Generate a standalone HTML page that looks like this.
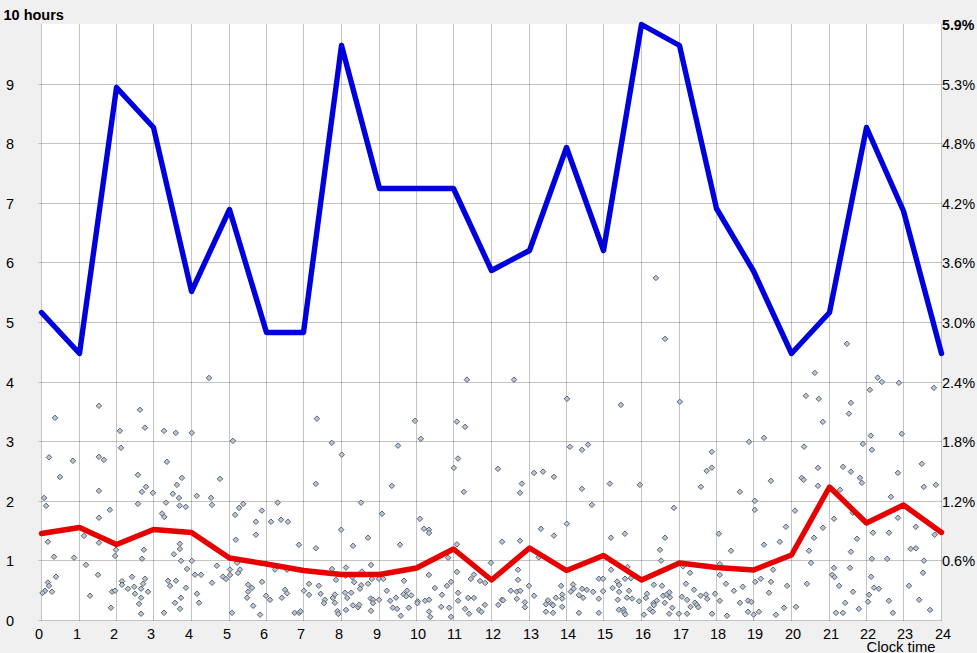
<!DOCTYPE html><html><head><meta charset="utf-8"><title>Chart</title><style>html,body{margin:0;padding:0;background:#f0f0f0;overflow:hidden}svg{display:block}</style></head><body>
<svg width="977" height="653" viewBox="0 0 977 653">
<rect x="0" y="0" width="977" height="653" fill="#f0f0f0"/>
<rect x="41" y="24" width="901" height="597" fill="#ffffff"/>
<path d="M41.5 24V621 M79.5 24V621 M116.5 24V621 M153.5 24V621 M191.5 24V621 M229.5 24V621 M266.5 24V621 M303.5 24V621 M341.5 24V621 M379.5 24V621 M416.5 24V621 M453.5 24V621 M491.5 24V621 M529.5 24V621 M566.5 24V621 M603.5 24V621 M641.5 24V621 M679.5 24V621 M716.5 24V621 M753.5 24V621 M791.5 24V621 M829.5 24V621 M866.5 24V621 M903.5 24V621 M941.5 24V621" stroke="#000" stroke-opacity="0.23" stroke-width="1" fill="none" shape-rendering="crispEdges"/>
<path d="M41 620.5H942 M41 560.5H942 M41 501.5H942 M41 441.5H942 M41 382.5H942 M41 322.5H942 M41 262.5H942 M41 203.5H942 M41 143.5H942 M41 84.5H942" stroke="#000" stroke-opacity="0.23" stroke-width="1" fill="none" shape-rendering="crispEdges"/>
<path d="M38 620.5H41 M38 560.5H41 M38 501.5H41 M38 441.5H41 M38 382.5H41 M38 322.5H41 M38 262.5H41 M38 203.5H41 M38 143.5H41 M38 84.5H41" stroke="#c8c8c8" stroke-width="1" fill="none" shape-rendering="crispEdges"/>
<g fill="#bac6d6" stroke="#5a626e" stroke-width="1">
<path d="M655.9 275.2l2.75 2.75 -2.75 2.75 -2.75 -2.75z"/>
<path d="M665.0 336.1l2.75 2.75 -2.75 2.75 -2.75 -2.75z"/>
<path d="M121.0 445.1l2.75 2.75 -2.75 2.75 -2.75 -2.75z"/>
<path d="M55.0 415.1l2.75 2.75 -2.75 2.75 -2.75 -2.75z"/>
<path d="M98.9 403.1l2.75 2.75 -2.75 2.75 -2.75 -2.75z"/>
<path d="M139.9 407.1l2.75 2.75 -2.75 2.75 -2.75 -2.75z"/>
<path d="M144.9 424.9l2.75 2.75 -2.75 2.75 -2.75 -2.75z"/>
<path d="M119.9 428.1l2.75 2.75 -2.75 2.75 -2.75 -2.75z"/>
<path d="M164.0 428.1l2.75 2.75 -2.75 2.75 -2.75 -2.75z"/>
<path d="M175.8 430.1l2.75 2.75 -2.75 2.75 -2.75 -2.75z"/>
<path d="M846.9 341.1l2.75 2.75 -2.75 2.75 -2.75 -2.75z"/>
<path d="M209.0 375.2l2.75 2.75 -2.75 2.75 -2.75 -2.75z"/>
<path d="M316.9 415.9l2.75 2.75 -2.75 2.75 -2.75 -2.75z"/>
<path d="M232.9 438.1l2.75 2.75 -2.75 2.75 -2.75 -2.75z"/>
<path d="M331.8 440.1l2.75 2.75 -2.75 2.75 -2.75 -2.75z"/>
<path d="M191.8 430.1l2.75 2.75 -2.75 2.75 -2.75 -2.75z"/>
<path d="M466.9 376.9l2.75 2.75 -2.75 2.75 -2.75 -2.75z"/>
<path d="M415.0 418.1l2.75 2.75 -2.75 2.75 -2.75 -2.75z"/>
<path d="M456.9 418.9l2.75 2.75 -2.75 2.75 -2.75 -2.75z"/>
<path d="M465.1 424.1l2.75 2.75 -2.75 2.75 -2.75 -2.75z"/>
<path d="M420.8 436.1l2.75 2.75 -2.75 2.75 -2.75 -2.75z"/>
<path d="M398.0 442.9l2.75 2.75 -2.75 2.75 -2.75 -2.75z"/>
<path d="M341.8 451.9l2.75 2.75 -2.75 2.75 -2.75 -2.75z"/>
<path d="M458.0 455.8l2.75 2.75 -2.75 2.75 -2.75 -2.75z"/>
<path d="M514.0 376.9l2.75 2.75 -2.75 2.75 -2.75 -2.75z"/>
<path d="M567.0 396.1l2.75 2.75 -2.75 2.75 -2.75 -2.75z"/>
<path d="M620.9 402.1l2.75 2.75 -2.75 2.75 -2.75 -2.75z"/>
<path d="M569.9 444.1l2.75 2.75 -2.75 2.75 -2.75 -2.75z"/>
<path d="M582.0 447.1l2.75 2.75 -2.75 2.75 -2.75 -2.75z"/>
<path d="M588.0 441.9l2.75 2.75 -2.75 2.75 -2.75 -2.75z"/>
<path d="M679.8 399.1l2.75 2.75 -2.75 2.75 -2.75 -2.75z"/>
<path d="M749.1 439.1l2.75 2.75 -2.75 2.75 -2.75 -2.75z"/>
<path d="M764.0 435.1l2.75 2.75 -2.75 2.75 -2.75 -2.75z"/>
<path d="M711.8 449.1l2.75 2.75 -2.75 2.75 -2.75 -2.75z"/>
<path d="M814.8 370.1l2.75 2.75 -2.75 2.75 -2.75 -2.75z"/>
<path d="M877.7 374.9l2.75 2.75 -2.75 2.75 -2.75 -2.75z"/>
<path d="M881.9 379.2l2.75 2.75 -2.75 2.75 -2.75 -2.75z"/>
<path d="M898.9 380.1l2.75 2.75 -2.75 2.75 -2.75 -2.75z"/>
<path d="M933.9 385.1l2.75 2.75 -2.75 2.75 -2.75 -2.75z"/>
<path d="M869.9 387.1l2.75 2.75 -2.75 2.75 -2.75 -2.75z"/>
<path d="M805.9 393.1l2.75 2.75 -2.75 2.75 -2.75 -2.75z"/>
<path d="M818.8 396.1l2.75 2.75 -2.75 2.75 -2.75 -2.75z"/>
<path d="M850.9 400.1l2.75 2.75 -2.75 2.75 -2.75 -2.75z"/>
<path d="M848.9 410.9l2.75 2.75 -2.75 2.75 -2.75 -2.75z"/>
<path d="M822.8 419.1l2.75 2.75 -2.75 2.75 -2.75 -2.75z"/>
<path d="M870.8 432.9l2.75 2.75 -2.75 2.75 -2.75 -2.75z"/>
<path d="M901.8 431.1l2.75 2.75 -2.75 2.75 -2.75 -2.75z"/>
<path d="M862.9 441.1l2.75 2.75 -2.75 2.75 -2.75 -2.75z"/>
<path d="M804.1 443.9l2.75 2.75 -2.75 2.75 -2.75 -2.75z"/>
<path d="M871.9 447.1l2.75 2.75 -2.75 2.75 -2.75 -2.75z"/>
<path d="M49.0 454.6l2.75 2.75 -2.75 2.75 -2.75 -2.75z"/>
<path d="M72.9 458.1l2.75 2.75 -2.75 2.75 -2.75 -2.75z"/>
<path d="M98.9 454.1l2.75 2.75 -2.75 2.75 -2.75 -2.75z"/>
<path d="M103.9 457.1l2.75 2.75 -2.75 2.75 -2.75 -2.75z"/>
<path d="M166.9 459.1l2.75 2.75 -2.75 2.75 -2.75 -2.75z"/>
<path d="M59.9 474.2l2.75 2.75 -2.75 2.75 -2.75 -2.75z"/>
<path d="M137.9 472.1l2.75 2.75 -2.75 2.75 -2.75 -2.75z"/>
<path d="M181.9 475.1l2.75 2.75 -2.75 2.75 -2.75 -2.75z"/>
<path d="M176.9 482.1l2.75 2.75 -2.75 2.75 -2.75 -2.75z"/>
<path d="M146.0 484.1l2.75 2.75 -2.75 2.75 -2.75 -2.75z"/>
<path d="M141.9 489.1l2.75 2.75 -2.75 2.75 -2.75 -2.75z"/>
<path d="M152.9 490.1l2.75 2.75 -2.75 2.75 -2.75 -2.75z"/>
<path d="M98.9 488.1l2.75 2.75 -2.75 2.75 -2.75 -2.75z"/>
<path d="M172.9 491.1l2.75 2.75 -2.75 2.75 -2.75 -2.75z"/>
<path d="M179.0 495.2l2.75 2.75 -2.75 2.75 -2.75 -2.75z"/>
<path d="M44.1 495.2l2.75 2.75 -2.75 2.75 -2.75 -2.75z"/>
<path d="M46.1 503.1l2.75 2.75 -2.75 2.75 -2.75 -2.75z"/>
<path d="M137.9 501.1l2.75 2.75 -2.75 2.75 -2.75 -2.75z"/>
<path d="M166.0 499.9l2.75 2.75 -2.75 2.75 -2.75 -2.75z"/>
<path d="M179.6 502.9l2.75 2.75 -2.75 2.75 -2.75 -2.75z"/>
<path d="M185.8 504.1l2.75 2.75 -2.75 2.75 -2.75 -2.75z"/>
<path d="M109.9 507.1l2.75 2.75 -2.75 2.75 -2.75 -2.75z"/>
<path d="M98.9 515.0l2.75 2.75 -2.75 2.75 -2.75 -2.75z"/>
<path d="M162.0 510.8l2.75 2.75 -2.75 2.75 -2.75 -2.75z"/>
<path d="M164.3 514.2l2.75 2.75 -2.75 2.75 -2.75 -2.75z"/>
<path d="M84.0 533.1l2.75 2.75 -2.75 2.75 -2.75 -2.75z"/>
<path d="M47.9 539.0l2.75 2.75 -2.75 2.75 -2.75 -2.75z"/>
<path d="M98.9 540.0l2.75 2.75 -2.75 2.75 -2.75 -2.75z"/>
<path d="M115.9 547.0l2.75 2.75 -2.75 2.75 -2.75 -2.75z"/>
<path d="M143.9 547.0l2.75 2.75 -2.75 2.75 -2.75 -2.75z"/>
<path d="M179.8 541.0l2.75 2.75 -2.75 2.75 -2.75 -2.75z"/>
<path d="M179.9 546.2l2.75 2.75 -2.75 2.75 -2.75 -2.75z"/>
<path d="M173.9 551.5l2.75 2.75 -2.75 2.75 -2.75 -2.75z"/>
<path d="M219.9 476.1l2.75 2.75 -2.75 2.75 -2.75 -2.75z"/>
<path d="M196.8 493.1l2.75 2.75 -2.75 2.75 -2.75 -2.75z"/>
<path d="M211.0 495.1l2.75 2.75 -2.75 2.75 -2.75 -2.75z"/>
<path d="M212.0 502.1l2.75 2.75 -2.75 2.75 -2.75 -2.75z"/>
<path d="M315.8 481.1l2.75 2.75 -2.75 2.75 -2.75 -2.75z"/>
<path d="M243.2 501.1l2.75 2.75 -2.75 2.75 -2.75 -2.75z"/>
<path d="M239.1 505.1l2.75 2.75 -2.75 2.75 -2.75 -2.75z"/>
<path d="M235.1 512.1l2.75 2.75 -2.75 2.75 -2.75 -2.75z"/>
<path d="M261.9 507.9l2.75 2.75 -2.75 2.75 -2.75 -2.75z"/>
<path d="M277.7 499.9l2.75 2.75 -2.75 2.75 -2.75 -2.75z"/>
<path d="M255.9 519.0l2.75 2.75 -2.75 2.75 -2.75 -2.75z"/>
<path d="M271.0 519.0l2.75 2.75 -2.75 2.75 -2.75 -2.75z"/>
<path d="M281.0 517.0l2.75 2.75 -2.75 2.75 -2.75 -2.75z"/>
<path d="M287.9 519.0l2.75 2.75 -2.75 2.75 -2.75 -2.75z"/>
<path d="M255.9 532.0l2.75 2.75 -2.75 2.75 -2.75 -2.75z"/>
<path d="M235.8 537.0l2.75 2.75 -2.75 2.75 -2.75 -2.75z"/>
<path d="M298.9 542.0l2.75 2.75 -2.75 2.75 -2.75 -2.75z"/>
<path d="M315.9 545.5l2.75 2.75 -2.75 2.75 -2.75 -2.75z"/>
<path d="M341.2 527.0l2.75 2.75 -2.75 2.75 -2.75 -2.75z"/>
<path d="M453.8 465.1l2.75 2.75 -2.75 2.75 -2.75 -2.75z"/>
<path d="M391.8 483.1l2.75 2.75 -2.75 2.75 -2.75 -2.75z"/>
<path d="M463.8 489.1l2.75 2.75 -2.75 2.75 -2.75 -2.75z"/>
<path d="M361.0 499.9l2.75 2.75 -2.75 2.75 -2.75 -2.75z"/>
<path d="M382.0 511.0l2.75 2.75 -2.75 2.75 -2.75 -2.75z"/>
<path d="M419.9 516.0l2.75 2.75 -2.75 2.75 -2.75 -2.75z"/>
<path d="M423.9 526.0l2.75 2.75 -2.75 2.75 -2.75 -2.75z"/>
<path d="M429.0 527.0l2.75 2.75 -2.75 2.75 -2.75 -2.75z"/>
<path d="M429.0 530.2l2.75 2.75 -2.75 2.75 -2.75 -2.75z"/>
<path d="M368.0 535.0l2.75 2.75 -2.75 2.75 -2.75 -2.75z"/>
<path d="M353.0 543.1l2.75 2.75 -2.75 2.75 -2.75 -2.75z"/>
<path d="M400.0 542.0l2.75 2.75 -2.75 2.75 -2.75 -2.75z"/>
<path d="M456.9 541.6l2.75 2.75 -2.75 2.75 -2.75 -2.75z"/>
<path d="M497.9 466.1l2.75 2.75 -2.75 2.75 -2.75 -2.75z"/>
<path d="M521.9 480.9l2.75 2.75 -2.75 2.75 -2.75 -2.75z"/>
<path d="M520.0 490.1l2.75 2.75 -2.75 2.75 -2.75 -2.75z"/>
<path d="M534.0 470.2l2.75 2.75 -2.75 2.75 -2.75 -2.75z"/>
<path d="M543.0 468.9l2.75 2.75 -2.75 2.75 -2.75 -2.75z"/>
<path d="M553.9 474.1l2.75 2.75 -2.75 2.75 -2.75 -2.75z"/>
<path d="M581.9 486.1l2.75 2.75 -2.75 2.75 -2.75 -2.75z"/>
<path d="M609.8 480.9l2.75 2.75 -2.75 2.75 -2.75 -2.75z"/>
<path d="M639.9 482.1l2.75 2.75 -2.75 2.75 -2.75 -2.75z"/>
<path d="M591.9 502.1l2.75 2.75 -2.75 2.75 -2.75 -2.75z"/>
<path d="M566.8 521.0l2.75 2.75 -2.75 2.75 -2.75 -2.75z"/>
<path d="M540.9 526.0l2.75 2.75 -2.75 2.75 -2.75 -2.75z"/>
<path d="M553.9 532.9l2.75 2.75 -2.75 2.75 -2.75 -2.75z"/>
<path d="M502.1 539.0l2.75 2.75 -2.75 2.75 -2.75 -2.75z"/>
<path d="M520.0 538.0l2.75 2.75 -2.75 2.75 -2.75 -2.75z"/>
<path d="M610.9 535.0l2.75 2.75 -2.75 2.75 -2.75 -2.75z"/>
<path d="M624.9 531.0l2.75 2.75 -2.75 2.75 -2.75 -2.75z"/>
<path d="M706.7 468.1l2.75 2.75 -2.75 2.75 -2.75 -2.75z"/>
<path d="M711.8 464.9l2.75 2.75 -2.75 2.75 -2.75 -2.75z"/>
<path d="M700.9 484.1l2.75 2.75 -2.75 2.75 -2.75 -2.75z"/>
<path d="M739.9 489.1l2.75 2.75 -2.75 2.75 -2.75 -2.75z"/>
<path d="M770.9 478.1l2.75 2.75 -2.75 2.75 -2.75 -2.75z"/>
<path d="M754.8 498.1l2.75 2.75 -2.75 2.75 -2.75 -2.75z"/>
<path d="M754.8 507.1l2.75 2.75 -2.75 2.75 -2.75 -2.75z"/>
<path d="M673.9 505.1l2.75 2.75 -2.75 2.75 -2.75 -2.75z"/>
<path d="M785.9 524.0l2.75 2.75 -2.75 2.75 -2.75 -2.75z"/>
<path d="M718.8 531.0l2.75 2.75 -2.75 2.75 -2.75 -2.75z"/>
<path d="M665.0 535.0l2.75 2.75 -2.75 2.75 -2.75 -2.75z"/>
<path d="M660.0 547.1l2.75 2.75 -2.75 2.75 -2.75 -2.75z"/>
<path d="M731.0 548.0l2.75 2.75 -2.75 2.75 -2.75 -2.75z"/>
<path d="M764.0 542.0l2.75 2.75 -2.75 2.75 -2.75 -2.75z"/>
<path d="M779.8 539.0l2.75 2.75 -2.75 2.75 -2.75 -2.75z"/>
<path d="M818.0 465.1l2.75 2.75 -2.75 2.75 -2.75 -2.75z"/>
<path d="M801.7 475.1l2.75 2.75 -2.75 2.75 -2.75 -2.75z"/>
<path d="M803.7 477.1l2.75 2.75 -2.75 2.75 -2.75 -2.75z"/>
<path d="M818.0 483.1l2.75 2.75 -2.75 2.75 -2.75 -2.75z"/>
<path d="M843.0 464.1l2.75 2.75 -2.75 2.75 -2.75 -2.75z"/>
<path d="M850.9 468.9l2.75 2.75 -2.75 2.75 -2.75 -2.75z"/>
<path d="M859.9 475.1l2.75 2.75 -2.75 2.75 -2.75 -2.75z"/>
<path d="M861.9 480.1l2.75 2.75 -2.75 2.75 -2.75 -2.75z"/>
<path d="M840.0 487.1l2.75 2.75 -2.75 2.75 -2.75 -2.75z"/>
<path d="M897.9 470.1l2.75 2.75 -2.75 2.75 -2.75 -2.75z"/>
<path d="M921.8 461.1l2.75 2.75 -2.75 2.75 -2.75 -2.75z"/>
<path d="M923.8 484.1l2.75 2.75 -2.75 2.75 -2.75 -2.75z"/>
<path d="M935.9 482.1l2.75 2.75 -2.75 2.75 -2.75 -2.75z"/>
<path d="M890.9 494.1l2.75 2.75 -2.75 2.75 -2.75 -2.75z"/>
<path d="M795.0 507.9l2.75 2.75 -2.75 2.75 -2.75 -2.75z"/>
<path d="M834.0 516.0l2.75 2.75 -2.75 2.75 -2.75 -2.75z"/>
<path d="M852.7 509.9l2.75 2.75 -2.75 2.75 -2.75 -2.75z"/>
<path d="M897.9 515.0l2.75 2.75 -2.75 2.75 -2.75 -2.75z"/>
<path d="M822.9 525.0l2.75 2.75 -2.75 2.75 -2.75 -2.75z"/>
<path d="M915.8 524.0l2.75 2.75 -2.75 2.75 -2.75 -2.75z"/>
<path d="M814.0 535.0l2.75 2.75 -2.75 2.75 -2.75 -2.75z"/>
<path d="M857.0 536.0l2.75 2.75 -2.75 2.75 -2.75 -2.75z"/>
<path d="M873.0 530.0l2.75 2.75 -2.75 2.75 -2.75 -2.75z"/>
<path d="M889.0 530.0l2.75 2.75 -2.75 2.75 -2.75 -2.75z"/>
<path d="M934.7 532.0l2.75 2.75 -2.75 2.75 -2.75 -2.75z"/>
<path d="M809.0 548.0l2.75 2.75 -2.75 2.75 -2.75 -2.75z"/>
<path d="M850.9 549.0l2.75 2.75 -2.75 2.75 -2.75 -2.75z"/>
<path d="M910.7 546.1l2.75 2.75 -2.75 2.75 -2.75 -2.75z"/>
<path d="M915.9 545.5l2.75 2.75 -2.75 2.75 -2.75 -2.75z"/>
<path d="M54.0 554.0l2.75 2.75 -2.75 2.75 -2.75 -2.75z"/>
<path d="M74.0 554.9l2.75 2.75 -2.75 2.75 -2.75 -2.75z"/>
<path d="M115.1 553.2l2.75 2.75 -2.75 2.75 -2.75 -2.75z"/>
<path d="M86.0 562.1l2.75 2.75 -2.75 2.75 -2.75 -2.75z"/>
<path d="M98.0 572.1l2.75 2.75 -2.75 2.75 -2.75 -2.75z"/>
<path d="M56.0 574.0l2.75 2.75 -2.75 2.75 -2.75 -2.75z"/>
<path d="M47.9 579.8l2.75 2.75 -2.75 2.75 -2.75 -2.75z"/>
<path d="M49.0 583.1l2.75 2.75 -2.75 2.75 -2.75 -2.75z"/>
<path d="M45.0 588.0l2.75 2.75 -2.75 2.75 -2.75 -2.75z"/>
<path d="M42.5 590.2l2.75 2.75 -2.75 2.75 -2.75 -2.75z"/>
<path d="M52.0 589.0l2.75 2.75 -2.75 2.75 -2.75 -2.75z"/>
<path d="M90.0 593.0l2.75 2.75 -2.75 2.75 -2.75 -2.75z"/>
<path d="M112.0 588.9l2.75 2.75 -2.75 2.75 -2.75 -2.75z"/>
<path d="M115.1 588.0l2.75 2.75 -2.75 2.75 -2.75 -2.75z"/>
<path d="M110.9 605.0l2.75 2.75 -2.75 2.75 -2.75 -2.75z"/>
<path d="M122.0 578.5l2.75 2.75 -2.75 2.75 -2.75 -2.75z"/>
<path d="M122.0 582.0l2.75 2.75 -2.75 2.75 -2.75 -2.75z"/>
<path d="M132.1 574.0l2.75 2.75 -2.75 2.75 -2.75 -2.75z"/>
<path d="M127.9 586.0l2.75 2.75 -2.75 2.75 -2.75 -2.75z"/>
<path d="M134.2 584.0l2.75 2.75 -2.75 2.75 -2.75 -2.75z"/>
<path d="M135.0 591.0l2.75 2.75 -2.75 2.75 -2.75 -2.75z"/>
<path d="M142.0 556.0l2.75 2.75 -2.75 2.75 -2.75 -2.75z"/>
<path d="M181.0 558.1l2.75 2.75 -2.75 2.75 -2.75 -2.75z"/>
<path d="M191.9 558.1l2.75 2.75 -2.75 2.75 -2.75 -2.75z"/>
<path d="M187.0 566.2l2.75 2.75 -2.75 2.75 -2.75 -2.75z"/>
<path d="M216.9 563.0l2.75 2.75 -2.75 2.75 -2.75 -2.75z"/>
<path d="M145.1 576.0l2.75 2.75 -2.75 2.75 -2.75 -2.75z"/>
<path d="M143.1 581.0l2.75 2.75 -2.75 2.75 -2.75 -2.75z"/>
<path d="M141.1 586.0l2.75 2.75 -2.75 2.75 -2.75 -2.75z"/>
<path d="M148.0 589.0l2.75 2.75 -2.75 2.75 -2.75 -2.75z"/>
<path d="M141.1 595.0l2.75 2.75 -2.75 2.75 -2.75 -2.75z"/>
<path d="M139.0 601.1l2.75 2.75 -2.75 2.75 -2.75 -2.75z"/>
<path d="M141.1 611.0l2.75 2.75 -2.75 2.75 -2.75 -2.75z"/>
<path d="M168.0 578.0l2.75 2.75 -2.75 2.75 -2.75 -2.75z"/>
<path d="M176.0 578.0l2.75 2.75 -2.75 2.75 -2.75 -2.75z"/>
<path d="M170.1 583.1l2.75 2.75 -2.75 2.75 -2.75 -2.75z"/>
<path d="M185.9 585.0l2.75 2.75 -2.75 2.75 -2.75 -2.75z"/>
<path d="M181.0 595.0l2.75 2.75 -2.75 2.75 -2.75 -2.75z"/>
<path d="M175.0 600.1l2.75 2.75 -2.75 2.75 -2.75 -2.75z"/>
<path d="M180.0 606.1l2.75 2.75 -2.75 2.75 -2.75 -2.75z"/>
<path d="M164.0 610.0l2.75 2.75 -2.75 2.75 -2.75 -2.75z"/>
<path d="M195.0 572.0l2.75 2.75 -2.75 2.75 -2.75 -2.75z"/>
<path d="M201.1 572.0l2.75 2.75 -2.75 2.75 -2.75 -2.75z"/>
<path d="M212.1 580.0l2.75 2.75 -2.75 2.75 -2.75 -2.75z"/>
<path d="M197.0 591.0l2.75 2.75 -2.75 2.75 -2.75 -2.75z"/>
<path d="M199.0 600.0l2.75 2.75 -2.75 2.75 -2.75 -2.75z"/>
<path d="M222.9 573.9l2.75 2.75 -2.75 2.75 -2.75 -2.75z"/>
<path d="M226.0 576.2l2.75 2.75 -2.75 2.75 -2.75 -2.75z"/>
<path d="M237.1 560.1l2.75 2.75 -2.75 2.75 -2.75 -2.75z"/>
<path d="M230.0 566.8l2.75 2.75 -2.75 2.75 -2.75 -2.75z"/>
<path d="M240.0 566.8l2.75 2.75 -2.75 2.75 -2.75 -2.75z"/>
<path d="M238.0 570.2l2.75 2.75 -2.75 2.75 -2.75 -2.75z"/>
<path d="M230.0 572.2l2.75 2.75 -2.75 2.75 -2.75 -2.75z"/>
<path d="M262.0 579.1l2.75 2.75 -2.75 2.75 -2.75 -2.75z"/>
<path d="M248.1 582.0l2.75 2.75 -2.75 2.75 -2.75 -2.75z"/>
<path d="M252.0 585.2l2.75 2.75 -2.75 2.75 -2.75 -2.75z"/>
<path d="M248.1 588.9l2.75 2.75 -2.75 2.75 -2.75 -2.75z"/>
<path d="M247.1 595.0l2.75 2.75 -2.75 2.75 -2.75 -2.75z"/>
<path d="M253.2 603.0l2.75 2.75 -2.75 2.75 -2.75 -2.75z"/>
<path d="M232.0 610.1l2.75 2.75 -2.75 2.75 -2.75 -2.75z"/>
<path d="M260.1 611.9l2.75 2.75 -2.75 2.75 -2.75 -2.75z"/>
<path d="M275.0 566.8l2.75 2.75 -2.75 2.75 -2.75 -2.75z"/>
<path d="M287.0 567.0l2.75 2.75 -2.75 2.75 -2.75 -2.75z"/>
<path d="M266.0 593.0l2.75 2.75 -2.75 2.75 -2.75 -2.75z"/>
<path d="M270.0 597.1l2.75 2.75 -2.75 2.75 -2.75 -2.75z"/>
<path d="M285.0 587.0l2.75 2.75 -2.75 2.75 -2.75 -2.75z"/>
<path d="M287.0 590.6l2.75 2.75 -2.75 2.75 -2.75 -2.75z"/>
<path d="M281.9 595.0l2.75 2.75 -2.75 2.75 -2.75 -2.75z"/>
<path d="M294.6 610.1l2.75 2.75 -2.75 2.75 -2.75 -2.75z"/>
<path d="M299.1 610.1l2.75 2.75 -2.75 2.75 -2.75 -2.75z"/>
<path d="M300.5 608.5l2.75 2.75 -2.75 2.75 -2.75 -2.75z"/>
<path d="M303.9 588.0l2.75 2.75 -2.75 2.75 -2.75 -2.75z"/>
<path d="M309.0 581.1l2.75 2.75 -2.75 2.75 -2.75 -2.75z"/>
<path d="M309.0 592.1l2.75 2.75 -2.75 2.75 -2.75 -2.75z"/>
<path d="M318.8 583.0l2.75 2.75 -2.75 2.75 -2.75 -2.75z"/>
<path d="M320.6 591.1l2.75 2.75 -2.75 2.75 -2.75 -2.75z"/>
<path d="M332.0 566.2l2.75 2.75 -2.75 2.75 -2.75 -2.75z"/>
<path d="M346.0 564.8l2.75 2.75 -2.75 2.75 -2.75 -2.75z"/>
<path d="M371.0 562.2l2.75 2.75 -2.75 2.75 -2.75 -2.75z"/>
<path d="M361.9 568.8l2.75 2.75 -2.75 2.75 -2.75 -2.75z"/>
<path d="M345.5 572.9l2.75 2.75 -2.75 2.75 -2.75 -2.75z"/>
<path d="M352.3 574.5l2.75 2.75 -2.75 2.75 -2.75 -2.75z"/>
<path d="M336.0 577.1l2.75 2.75 -2.75 2.75 -2.75 -2.75z"/>
<path d="M354.1 579.4l2.75 2.75 -2.75 2.75 -2.75 -2.75z"/>
<path d="M361.2 582.5l2.75 2.75 -2.75 2.75 -2.75 -2.75z"/>
<path d="M360.0 586.0l2.75 2.75 -2.75 2.75 -2.75 -2.75z"/>
<path d="M368.1 581.1l2.75 2.75 -2.75 2.75 -2.75 -2.75z"/>
<path d="M371.9 576.2l2.75 2.75 -2.75 2.75 -2.75 -2.75z"/>
<path d="M378.8 576.0l2.75 2.75 -2.75 2.75 -2.75 -2.75z"/>
<path d="M383.4 576.2l2.75 2.75 -2.75 2.75 -2.75 -2.75z"/>
<path d="M404.0 578.0l2.75 2.75 -2.75 2.75 -2.75 -2.75z"/>
<path d="M324.8 597.0l2.75 2.75 -2.75 2.75 -2.75 -2.75z"/>
<path d="M324.0 600.4l2.75 2.75 -2.75 2.75 -2.75 -2.75z"/>
<path d="M334.9 591.8l2.75 2.75 -2.75 2.75 -2.75 -2.75z"/>
<path d="M332.8 595.2l2.75 2.75 -2.75 2.75 -2.75 -2.75z"/>
<path d="M334.9 600.1l2.75 2.75 -2.75 2.75 -2.75 -2.75z"/>
<path d="M337.4 608.5l2.75 2.75 -2.75 2.75 -2.75 -2.75z"/>
<path d="M338.3 611.2l2.75 2.75 -2.75 2.75 -2.75 -2.75z"/>
<path d="M345.1 590.0l2.75 2.75 -2.75 2.75 -2.75 -2.75z"/>
<path d="M351.2 590.0l2.75 2.75 -2.75 2.75 -2.75 -2.75z"/>
<path d="M347.2 595.2l2.75 2.75 -2.75 2.75 -2.75 -2.75z"/>
<path d="M352.9 602.6l2.75 2.75 -2.75 2.75 -2.75 -2.75z"/>
<path d="M358.1 604.5l2.75 2.75 -2.75 2.75 -2.75 -2.75z"/>
<path d="M359.2 601.9l2.75 2.75 -2.75 2.75 -2.75 -2.75z"/>
<path d="M346.0 607.2l2.75 2.75 -2.75 2.75 -2.75 -2.75z"/>
<path d="M370.7 595.8l2.75 2.75 -2.75 2.75 -2.75 -2.75z"/>
<path d="M373.0 597.1l2.75 2.75 -2.75 2.75 -2.75 -2.75z"/>
<path d="M373.0 600.4l2.75 2.75 -2.75 2.75 -2.75 -2.75z"/>
<path d="M379.1 597.1l2.75 2.75 -2.75 2.75 -2.75 -2.75z"/>
<path d="M371.0 608.1l2.75 2.75 -2.75 2.75 -2.75 -2.75z"/>
<path d="M386.8 588.0l2.75 2.75 -2.75 2.75 -2.75 -2.75z"/>
<path d="M396.0 594.9l2.75 2.75 -2.75 2.75 -2.75 -2.75z"/>
<path d="M390.2 598.0l2.75 2.75 -2.75 2.75 -2.75 -2.75z"/>
<path d="M392.8 605.0l2.75 2.75 -2.75 2.75 -2.75 -2.75z"/>
<path d="M397.1 606.1l2.75 2.75 -2.75 2.75 -2.75 -2.75z"/>
<path d="M400.8 613.0l2.75 2.75 -2.75 2.75 -2.75 -2.75z"/>
<path d="M407.1 587.9l2.75 2.75 -2.75 2.75 -2.75 -2.75z"/>
<path d="M403.5 591.5l2.75 2.75 -2.75 2.75 -2.75 -2.75z"/>
<path d="M406.2 593.5l2.75 2.75 -2.75 2.75 -2.75 -2.75z"/>
<path d="M411.2 592.6l2.75 2.75 -2.75 2.75 -2.75 -2.75z"/>
<path d="M408.8 605.0l2.75 2.75 -2.75 2.75 -2.75 -2.75z"/>
<path d="M448.1 555.0l2.75 2.75 -2.75 2.75 -2.75 -2.75z"/>
<path d="M490.9 560.0l2.75 2.75 -2.75 2.75 -2.75 -2.75z"/>
<path d="M457.0 569.1l2.75 2.75 -2.75 2.75 -2.75 -2.75z"/>
<path d="M428.9 572.2l2.75 2.75 -2.75 2.75 -2.75 -2.75z"/>
<path d="M473.9 571.9l2.75 2.75 -2.75 2.75 -2.75 -2.75z"/>
<path d="M470.8 576.2l2.75 2.75 -2.75 2.75 -2.75 -2.75z"/>
<path d="M480.0 578.2l2.75 2.75 -2.75 2.75 -2.75 -2.75z"/>
<path d="M485.2 580.2l2.75 2.75 -2.75 2.75 -2.75 -2.75z"/>
<path d="M451.0 579.1l2.75 2.75 -2.75 2.75 -2.75 -2.75z"/>
<path d="M446.9 583.1l2.75 2.75 -2.75 2.75 -2.75 -2.75z"/>
<path d="M434.9 585.2l2.75 2.75 -2.75 2.75 -2.75 -2.75z"/>
<path d="M417.7 598.6l2.75 2.75 -2.75 2.75 -2.75 -2.75z"/>
<path d="M417.4 600.4l2.75 2.75 -2.75 2.75 -2.75 -2.75z"/>
<path d="M425.1 598.0l2.75 2.75 -2.75 2.75 -2.75 -2.75z"/>
<path d="M429.1 597.0l2.75 2.75 -2.75 2.75 -2.75 -2.75z"/>
<path d="M442.0 592.0l2.75 2.75 -2.75 2.75 -2.75 -2.75z"/>
<path d="M458.1 590.0l2.75 2.75 -2.75 2.75 -2.75 -2.75z"/>
<path d="M458.1 598.0l2.75 2.75 -2.75 2.75 -2.75 -2.75z"/>
<path d="M468.2 595.2l2.75 2.75 -2.75 2.75 -2.75 -2.75z"/>
<path d="M473.9 595.2l2.75 2.75 -2.75 2.75 -2.75 -2.75z"/>
<path d="M484.8 602.1l2.75 2.75 -2.75 2.75 -2.75 -2.75z"/>
<path d="M441.2 604.1l2.75 2.75 -2.75 2.75 -2.75 -2.75z"/>
<path d="M449.2 605.0l2.75 2.75 -2.75 2.75 -2.75 -2.75z"/>
<path d="M465.1 606.1l2.75 2.75 -2.75 2.75 -2.75 -2.75z"/>
<path d="M479.1 607.2l2.75 2.75 -2.75 2.75 -2.75 -2.75z"/>
<path d="M481.4 609.0l2.75 2.75 -2.75 2.75 -2.75 -2.75z"/>
<path d="M469.1 611.0l2.75 2.75 -2.75 2.75 -2.75 -2.75z"/>
<path d="M429.1 608.8l2.75 2.75 -2.75 2.75 -2.75 -2.75z"/>
<path d="M430.3 614.1l2.75 2.75 -2.75 2.75 -2.75 -2.75z"/>
<path d="M451.0 614.1l2.75 2.75 -2.75 2.75 -2.75 -2.75z"/>
<path d="M498.3 602.1l2.75 2.75 -2.75 2.75 -2.75 -2.75z"/>
<path d="M538.7 554.6l2.75 2.75 -2.75 2.75 -2.75 -2.75z"/>
<path d="M518.0 567.0l2.75 2.75 -2.75 2.75 -2.75 -2.75z"/>
<path d="M518.0 577.1l2.75 2.75 -2.75 2.75 -2.75 -2.75z"/>
<path d="M528.9 583.1l2.75 2.75 -2.75 2.75 -2.75 -2.75z"/>
<path d="M510.8 588.0l2.75 2.75 -2.75 2.75 -2.75 -2.75z"/>
<path d="M516.8 588.9l2.75 2.75 -2.75 2.75 -2.75 -2.75z"/>
<path d="M520.3 588.0l2.75 2.75 -2.75 2.75 -2.75 -2.75z"/>
<path d="M516.8 596.1l2.75 2.75 -2.75 2.75 -2.75 -2.75z"/>
<path d="M501.9 597.0l2.75 2.75 -2.75 2.75 -2.75 -2.75z"/>
<path d="M503.1 597.5l2.75 2.75 -2.75 2.75 -2.75 -2.75z"/>
<path d="M524.9 599.5l2.75 2.75 -2.75 2.75 -2.75 -2.75z"/>
<path d="M524.9 604.5l2.75 2.75 -2.75 2.75 -2.75 -2.75z"/>
<path d="M534.1 593.0l2.75 2.75 -2.75 2.75 -2.75 -2.75z"/>
<path d="M547.9 597.5l2.75 2.75 -2.75 2.75 -2.75 -2.75z"/>
<path d="M545.9 601.5l2.75 2.75 -2.75 2.75 -2.75 -2.75z"/>
<path d="M551.9 601.5l2.75 2.75 -2.75 2.75 -2.75 -2.75z"/>
<path d="M553.0 602.5l2.75 2.75 -2.75 2.75 -2.75 -2.75z"/>
<path d="M545.9 609.0l2.75 2.75 -2.75 2.75 -2.75 -2.75z"/>
<path d="M553.0 610.1l2.75 2.75 -2.75 2.75 -2.75 -2.75z"/>
<path d="M555.9 595.0l2.75 2.75 -2.75 2.75 -2.75 -2.75z"/>
<path d="M561.1 583.1l2.75 2.75 -2.75 2.75 -2.75 -2.75z"/>
<path d="M562.2 591.8l2.75 2.75 -2.75 2.75 -2.75 -2.75z"/>
<path d="M562.2 595.8l2.75 2.75 -2.75 2.75 -2.75 -2.75z"/>
<path d="M562.2 604.1l2.75 2.75 -2.75 2.75 -2.75 -2.75z"/>
<path d="M573.1 581.8l2.75 2.75 -2.75 2.75 -2.75 -2.75z"/>
<path d="M573.7 586.0l2.75 2.75 -2.75 2.75 -2.75 -2.75z"/>
<path d="M570.8 588.9l2.75 2.75 -2.75 2.75 -2.75 -2.75z"/>
<path d="M582.2 586.0l2.75 2.75 -2.75 2.75 -2.75 -2.75z"/>
<path d="M586.8 587.1l2.75 2.75 -2.75 2.75 -2.75 -2.75z"/>
<path d="M578.9 592.4l2.75 2.75 -2.75 2.75 -2.75 -2.75z"/>
<path d="M583.1 595.0l2.75 2.75 -2.75 2.75 -2.75 -2.75z"/>
<path d="M578.9 610.1l2.75 2.75 -2.75 2.75 -2.75 -2.75z"/>
<path d="M661.1 557.9l2.75 2.75 -2.75 2.75 -2.75 -2.75z"/>
<path d="M611.1 567.0l2.75 2.75 -2.75 2.75 -2.75 -2.75z"/>
<path d="M627.5 564.2l2.75 2.75 -2.75 2.75 -2.75 -2.75z"/>
<path d="M598.8 576.0l2.75 2.75 -2.75 2.75 -2.75 -2.75z"/>
<path d="M603.1 576.0l2.75 2.75 -2.75 2.75 -2.75 -2.75z"/>
<path d="M625.0 576.0l2.75 2.75 -2.75 2.75 -2.75 -2.75z"/>
<path d="M631.0 575.4l2.75 2.75 -2.75 2.75 -2.75 -2.75z"/>
<path d="M617.2 578.8l2.75 2.75 -2.75 2.75 -2.75 -2.75z"/>
<path d="M619.1 582.2l2.75 2.75 -2.75 2.75 -2.75 -2.75z"/>
<path d="M612.6 585.2l2.75 2.75 -2.75 2.75 -2.75 -2.75z"/>
<path d="M619.1 589.1l2.75 2.75 -2.75 2.75 -2.75 -2.75z"/>
<path d="M629.0 588.0l2.75 2.75 -2.75 2.75 -2.75 -2.75z"/>
<path d="M593.1 589.1l2.75 2.75 -2.75 2.75 -2.75 -2.75z"/>
<path d="M603.1 588.4l2.75 2.75 -2.75 2.75 -2.75 -2.75z"/>
<path d="M598.8 596.0l2.75 2.75 -2.75 2.75 -2.75 -2.75z"/>
<path d="M617.8 597.0l2.75 2.75 -2.75 2.75 -2.75 -2.75z"/>
<path d="M626.9 594.9l2.75 2.75 -2.75 2.75 -2.75 -2.75z"/>
<path d="M632.1 595.8l2.75 2.75 -2.75 2.75 -2.75 -2.75z"/>
<path d="M639.0 598.4l2.75 2.75 -2.75 2.75 -2.75 -2.75z"/>
<path d="M647.0 591.0l2.75 2.75 -2.75 2.75 -2.75 -2.75z"/>
<path d="M645.9 595.2l2.75 2.75 -2.75 2.75 -2.75 -2.75z"/>
<path d="M653.9 582.0l2.75 2.75 -2.75 2.75 -2.75 -2.75z"/>
<path d="M662.0 583.1l2.75 2.75 -2.75 2.75 -2.75 -2.75z"/>
<path d="M663.1 593.0l2.75 2.75 -2.75 2.75 -2.75 -2.75z"/>
<path d="M666.6 591.8l2.75 2.75 -2.75 2.75 -2.75 -2.75z"/>
<path d="M669.4 589.5l2.75 2.75 -2.75 2.75 -2.75 -2.75z"/>
<path d="M670.0 594.6l2.75 2.75 -2.75 2.75 -2.75 -2.75z"/>
<path d="M656.8 597.9l2.75 2.75 -2.75 2.75 -2.75 -2.75z"/>
<path d="M653.4 600.4l2.75 2.75 -2.75 2.75 -2.75 -2.75z"/>
<path d="M653.9 602.4l2.75 2.75 -2.75 2.75 -2.75 -2.75z"/>
<path d="M664.8 600.1l2.75 2.75 -2.75 2.75 -2.75 -2.75z"/>
<path d="M672.3 605.0l2.75 2.75 -2.75 2.75 -2.75 -2.75z"/>
<path d="M618.9 607.0l2.75 2.75 -2.75 2.75 -2.75 -2.75z"/>
<path d="M623.5 606.6l2.75 2.75 -2.75 2.75 -2.75 -2.75z"/>
<path d="M624.1 609.5l2.75 2.75 -2.75 2.75 -2.75 -2.75z"/>
<path d="M625.2 611.6l2.75 2.75 -2.75 2.75 -2.75 -2.75z"/>
<path d="M598.8 610.1l2.75 2.75 -2.75 2.75 -2.75 -2.75z"/>
<path d="M649.9 606.6l2.75 2.75 -2.75 2.75 -2.75 -2.75z"/>
<path d="M652.8 609.0l2.75 2.75 -2.75 2.75 -2.75 -2.75z"/>
<path d="M643.9 611.9l2.75 2.75 -2.75 2.75 -2.75 -2.75z"/>
<path d="M669.2 611.0l2.75 2.75 -2.75 2.75 -2.75 -2.75z"/>
<path d="M678.8 611.0l2.75 2.75 -2.75 2.75 -2.75 -2.75z"/>
<path d="M683.1 563.6l2.75 2.75 -2.75 2.75 -2.75 -2.75z"/>
<path d="M719.8 561.4l2.75 2.75 -2.75 2.75 -2.75 -2.75z"/>
<path d="M690.0 570.1l2.75 2.75 -2.75 2.75 -2.75 -2.75z"/>
<path d="M719.8 572.2l2.75 2.75 -2.75 2.75 -2.75 -2.75z"/>
<path d="M685.9 581.0l2.75 2.75 -2.75 2.75 -2.75 -2.75z"/>
<path d="M725.9 581.0l2.75 2.75 -2.75 2.75 -2.75 -2.75z"/>
<path d="M733.9 588.0l2.75 2.75 -2.75 2.75 -2.75 -2.75z"/>
<path d="M742.8 584.0l2.75 2.75 -2.75 2.75 -2.75 -2.75z"/>
<path d="M694.0 587.0l2.75 2.75 -2.75 2.75 -2.75 -2.75z"/>
<path d="M681.9 594.0l2.75 2.75 -2.75 2.75 -2.75 -2.75z"/>
<path d="M687.1 597.1l2.75 2.75 -2.75 2.75 -2.75 -2.75z"/>
<path d="M700.6 593.0l2.75 2.75 -2.75 2.75 -2.75 -2.75z"/>
<path d="M706.0 591.8l2.75 2.75 -2.75 2.75 -2.75 -2.75z"/>
<path d="M707.2 596.1l2.75 2.75 -2.75 2.75 -2.75 -2.75z"/>
<path d="M715.0 591.0l2.75 2.75 -2.75 2.75 -2.75 -2.75z"/>
<path d="M719.8 598.0l2.75 2.75 -2.75 2.75 -2.75 -2.75z"/>
<path d="M690.5 604.1l2.75 2.75 -2.75 2.75 -2.75 -2.75z"/>
<path d="M694.9 599.9l2.75 2.75 -2.75 2.75 -2.75 -2.75z"/>
<path d="M696.8 602.1l2.75 2.75 -2.75 2.75 -2.75 -2.75z"/>
<path d="M698.3 604.5l2.75 2.75 -2.75 2.75 -2.75 -2.75z"/>
<path d="M739.9 600.1l2.75 2.75 -2.75 2.75 -2.75 -2.75z"/>
<path d="M748.0 597.9l2.75 2.75 -2.75 2.75 -2.75 -2.75z"/>
<path d="M751.4 599.2l2.75 2.75 -2.75 2.75 -2.75 -2.75z"/>
<path d="M687.1 611.0l2.75 2.75 -2.75 2.75 -2.75 -2.75z"/>
<path d="M712.0 611.0l2.75 2.75 -2.75 2.75 -2.75 -2.75z"/>
<path d="M727.0 613.0l2.75 2.75 -2.75 2.75 -2.75 -2.75z"/>
<path d="M748.0 609.0l2.75 2.75 -2.75 2.75 -2.75 -2.75z"/>
<path d="M753.7 611.9l2.75 2.75 -2.75 2.75 -2.75 -2.75z"/>
<path d="M758.9 609.0l2.75 2.75 -2.75 2.75 -2.75 -2.75z"/>
<path d="M755.2 579.1l2.75 2.75 -2.75 2.75 -2.75 -2.75z"/>
<path d="M760.8 576.0l2.75 2.75 -2.75 2.75 -2.75 -2.75z"/>
<path d="M811.0 560.1l2.75 2.75 -2.75 2.75 -2.75 -2.75z"/>
<path d="M773.1 567.0l2.75 2.75 -2.75 2.75 -2.75 -2.75z"/>
<path d="M833.9 565.1l2.75 2.75 -2.75 2.75 -2.75 -2.75z"/>
<path d="M850.0 565.1l2.75 2.75 -2.75 2.75 -2.75 -2.75z"/>
<path d="M832.2 572.0l2.75 2.75 -2.75 2.75 -2.75 -2.75z"/>
<path d="M834.5 574.4l2.75 2.75 -2.75 2.75 -2.75 -2.75z"/>
<path d="M771.0 579.1l2.75 2.75 -2.75 2.75 -2.75 -2.75z"/>
<path d="M787.1 583.1l2.75 2.75 -2.75 2.75 -2.75 -2.75z"/>
<path d="M806.9 581.1l2.75 2.75 -2.75 2.75 -2.75 -2.75z"/>
<path d="M839.1 583.1l2.75 2.75 -2.75 2.75 -2.75 -2.75z"/>
<path d="M853.0 589.0l2.75 2.75 -2.75 2.75 -2.75 -2.75z"/>
<path d="M769.0 590.0l2.75 2.75 -2.75 2.75 -2.75 -2.75z"/>
<path d="M784.0 605.0l2.75 2.75 -2.75 2.75 -2.75 -2.75z"/>
<path d="M796.0 604.1l2.75 2.75 -2.75 2.75 -2.75 -2.75z"/>
<path d="M845.2 600.1l2.75 2.75 -2.75 2.75 -2.75 -2.75z"/>
<path d="M858.8 606.1l2.75 2.75 -2.75 2.75 -2.75 -2.75z"/>
<path d="M775.9 612.0l2.75 2.75 -2.75 2.75 -2.75 -2.75z"/>
<path d="M836.0 610.1l2.75 2.75 -2.75 2.75 -2.75 -2.75z"/>
<path d="M842.9 610.1l2.75 2.75 -2.75 2.75 -2.75 -2.75z"/>
<path d="M871.9 556.1l2.75 2.75 -2.75 2.75 -2.75 -2.75z"/>
<path d="M887.2 556.1l2.75 2.75 -2.75 2.75 -2.75 -2.75z"/>
<path d="M923.9 557.9l2.75 2.75 -2.75 2.75 -2.75 -2.75z"/>
<path d="M923.0 570.0l2.75 2.75 -2.75 2.75 -2.75 -2.75z"/>
<path d="M871.1 574.0l2.75 2.75 -2.75 2.75 -2.75 -2.75z"/>
<path d="M909.0 583.1l2.75 2.75 -2.75 2.75 -2.75 -2.75z"/>
<path d="M874.0 584.9l2.75 2.75 -2.75 2.75 -2.75 -2.75z"/>
<path d="M878.9 586.0l2.75 2.75 -2.75 2.75 -2.75 -2.75z"/>
<path d="M869.0 592.0l2.75 2.75 -2.75 2.75 -2.75 -2.75z"/>
<path d="M868.0 599.0l2.75 2.75 -2.75 2.75 -2.75 -2.75z"/>
<path d="M888.9 598.0l2.75 2.75 -2.75 2.75 -2.75 -2.75z"/>
<path d="M919.1 597.1l2.75 2.75 -2.75 2.75 -2.75 -2.75z"/>
<path d="M892.9 610.1l2.75 2.75 -2.75 2.75 -2.75 -2.75z"/>
<path d="M930.0 607.2l2.75 2.75 -2.75 2.75 -2.75 -2.75z"/>
</g>
<polyline points="41.5,533.5 79.5,527.5 116.5,544.5 153.5,529.5 191.5,532.5 229.5,558 266.5,564 303.5,570.5 341.5,574.5 379.5,574.5 416.5,568 453.5,549 491.5,580 529.5,548 566.5,570.5 603.5,555.5 641.5,580 679.5,563 716.5,567.5 753.5,570 791.5,555 829.5,487 866.5,523 903.5,505 941.5,532.5" fill="none" stroke="#e60000" stroke-width="5.4" stroke-linejoin="round" stroke-linecap="round"/>
<polyline points="41.5,312.5 79.5,353.5 116.5,87.5 153.5,127.5 191.5,291.5 229.5,209.5 266.5,332.5 303.5,332.5 341.5,45.5 379.5,188.5 416.5,188.5 453.5,188.5 491.5,270.5 529.5,250.5 566.5,147.5 603.5,250.5 641.5,24.5 679.5,45.5 716.5,208.5 753.5,271 791.5,353.5 829.5,312.5 866.5,127.5 903.5,211 941.5,353.5" fill="none" stroke="#0000dc" stroke-width="5.4" stroke-linejoin="round" stroke-linecap="round"/>
<g font-family="Liberation Sans, Arial, sans-serif" font-size="14.5" fill="#000">
<text x="6" y="625.9">0</text>
<text x="6" y="565.9">1</text>
<text x="6" y="506.9">2</text>
<text x="6" y="446.9">3</text>
<text x="6" y="387.9">4</text>
<text x="6" y="327.9">5</text>
<text x="6" y="267.9">6</text>
<text x="6" y="208.9">7</text>
<text x="6" y="148.9">8</text>
<text x="6" y="89.9">9</text>
<text x="942" y="566.0">0.6%</text>
<text x="942" y="507.0">1.2%</text>
<text x="942" y="447.0">1.8%</text>
<text x="942" y="388.0">2.4%</text>
<text x="942" y="328.0">3.0%</text>
<text x="942" y="268.0">3.6%</text>
<text x="942" y="209.0">4.2%</text>
<text x="942" y="149.0">4.8%</text>
<text x="942" y="90.0">5.3%</text>
<text x="35" y="638.5">0</text>
<text x="73" y="638.5">1</text>
<text x="110" y="638.5">2</text>
<text x="147" y="638.5">3</text>
<text x="185" y="638.5">4</text>
<text x="223" y="638.5">5</text>
<text x="260" y="638.5">6</text>
<text x="297" y="638.5">7</text>
<text x="335" y="638.5">8</text>
<text x="373" y="638.5">9</text>
<text x="410" y="638.5">10</text>
<text x="447" y="638.5">11</text>
<text x="485" y="638.5">12</text>
<text x="523" y="638.5">13</text>
<text x="560" y="638.5">14</text>
<text x="597" y="638.5">15</text>
<text x="635" y="638.5">16</text>
<text x="673" y="638.5">17</text>
<text x="710" y="638.5">18</text>
<text x="747" y="638.5">19</text>
<text x="785" y="638.5">20</text>
<text x="823" y="638.5">21</text>
<text x="860" y="638.5">22</text>
<text x="897" y="638.5">23</text>
<text x="935" y="638.5">24</text>
<text x="866.5" y="652.2" font-size="14.8">Clock time</text>
<text x="3.5" y="20" font-weight="bold">10 hours</text>
<text x="942" y="29.5" font-weight="bold" font-size="14.2">5.9%</text>
</g>
</svg></body></html>
